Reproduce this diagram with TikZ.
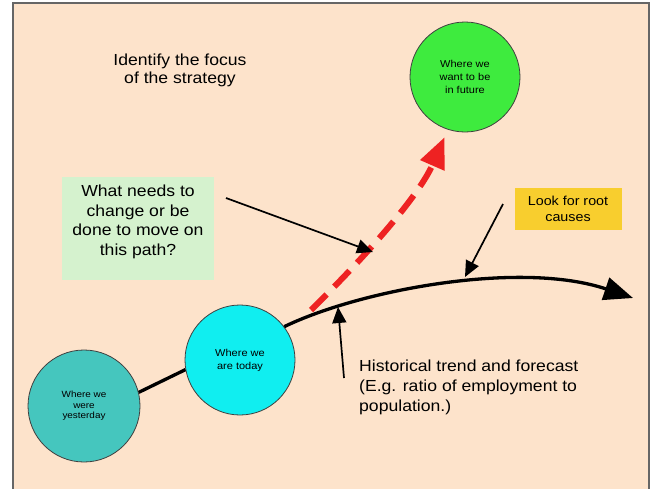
\documentclass[tikz,border=0pt]{standalone}
\usepackage{fontspec}
\setmainfont[FakeStretch=1.1]{Liberation Sans}
\usetikzlibrary{arrows.meta}
\definecolor{peach}{HTML}{FDE3CB}
\definecolor{tealc}{HTML}{45C6BE}
\definecolor{cyanc}{HTML}{10EEF0}
\definecolor{greenc}{HTML}{3EEB3E}
\definecolor{mint}{HTML}{D5F2CE}
\definecolor{gold}{HTML}{F8CE2E}
\definecolor{redc}{HTML}{EE2222}
\tikzset{
  circ/.style={circle, draw=black!75, line width=0.8pt, minimum size=112pt, inner sep=0pt, align=center, font=\fontsize{10}{13}\selectfont},
  thinarrow/.style={line width=1.7pt, -{Triangle[length=16pt,width=14pt]}},
  mainline/.style={line width=3.3pt},
}
\begin{document}
\begin{tikzpicture}[x=1pt,y=-1pt]
\useasboundingbox (0,0) rectangle (651,488);
\clip (0,0) rectangle (651,488);
\fill[white] (0,0) rectangle (651,488);
\draw[fill=peach, draw=black!60, line width=1.2pt] (13,3) rectangle (649,500);

% title
\node[align=center, font=\fontsize{16}{18}\selectfont] (title) at (180,70) {Identify the focus\\of the strategy};

% circles
\node[circ, fill=tealc, minimum size=112pt, font=\fontsize{9}{10.5}\selectfont] (yest) at (84,406) {Where we\\were\\yesterday};
\node[circ, fill=cyanc, minimum size=110pt] (today) at (240,360) {Where we\\are today};
\node[circ, fill=greenc, minimum size=110pt] (future) at (465,77) {Where we\\want to be\\in future};

% boxes
\node[fill=mint, minimum width=152pt, minimum height=103pt] (needs) at (138,228) {};
\node[align=center, font=\fontsize{16}{19.5}\selectfont] (needstext) at (138,222) {What needs to\\change or be\\done to move on\\this path?};
\node[fill=gold, minimum width=107pt, minimum height=42pt, align=center, font=\fontsize{13}{16}\selectfont] (root) at (568,209) {Look for root\\causes};
\node[anchor=north west, align=left, inner sep=0pt, font=\fontsize{16}{20}\selectfont] (hist) at (359,360) {Historical trend and forecast\\(E.g. ratio of employment to\\population.)};

% main path
\draw[mainline] (yest.14) -- (today.190);
\coordinate (tip) at (633,298);
\draw[mainline, -{Triangle[length=29pt,width=23pt]}] (today.37) .. controls (360,290) and (520,260) .. (tip);

% red dashed arrow
\coordinate (fork) at (311,310);
\draw[redc, line width=6pt, dash pattern=on 22pt off 11pt, -{Triangle[length=31pt,width=25pt]}, shorten >=8pt] (fork) .. controls (360,262) and (418,198) .. (future.252);

% thin arrows
\coordinate (a1s) at (226,198);
\coordinate (a1e) at (373,252);
\draw[thinarrow] (a1s) -- (a1e);
\coordinate (a2s) at (503,204);
\coordinate (a2e) at (465,277);
\draw[thinarrow] (a2s) -- (a2e);
\coordinate (a3s) at (344,378);
\coordinate (a3e) at (338,307);
\draw[thinarrow] (a3s) -- (a3e);
\end{tikzpicture}
\end{document}
